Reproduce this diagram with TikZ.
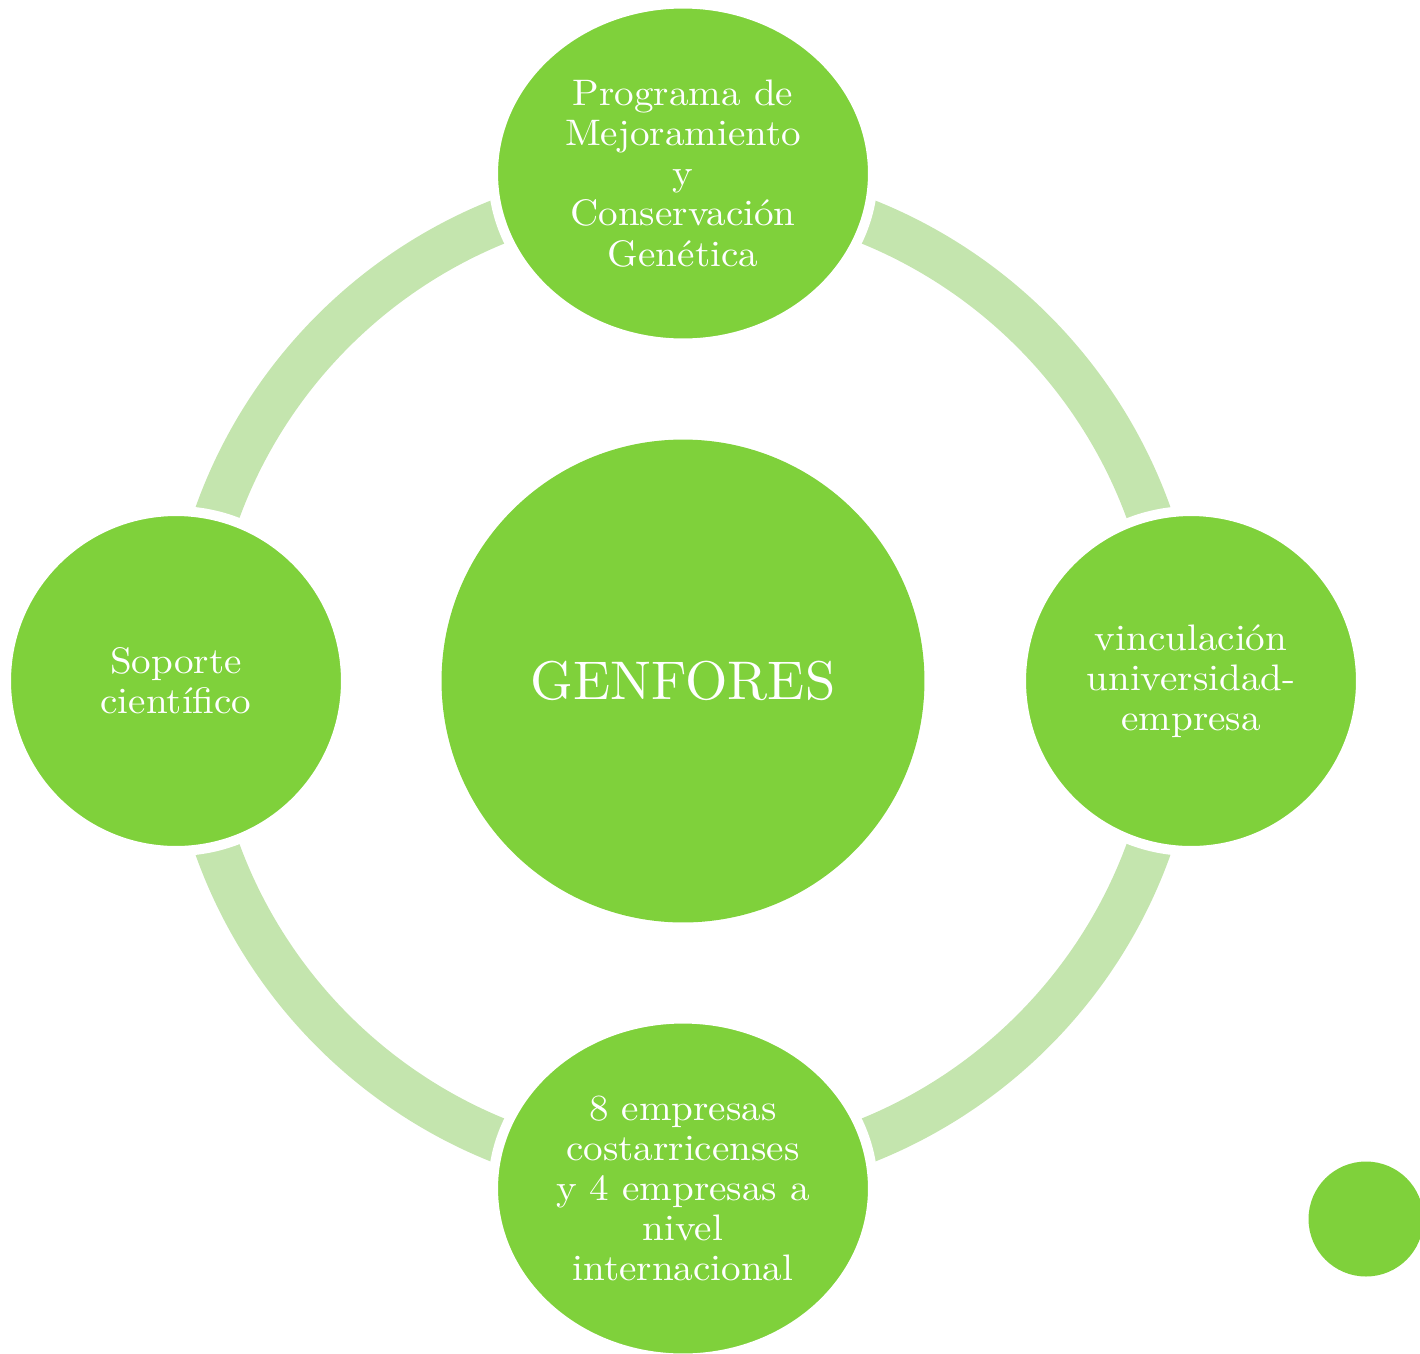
\documentclass[tikz,border=0pt]{standalone}
\usepackage{fontspec}
\usetikzlibrary{shapes.geometric}
% the 10pt design cut, set large, is wider and darker than the 17pt one
\newfontfamily\bigfont{lmroman10-regular.otf}
\newfontfamily\labelfont{lmroman10-regular.otf}[FakeStretch=1.06]
\definecolor{leaf}{HTML}{7FD13B}
\definecolor{pale}{HTML}{C4E5AE}
\begin{document}
\begin{tikzpicture}[x=0.02cm,y=-0.02cm,
    hub/.style={circle,fill=leaf,minimum size=9.66cm,inner sep=0pt,text=white,
      font=\bigfont\fontsize{31}{37}\selectfont},
    item/.style={fill=leaf,draw=white,line width=0.2cm,text=white,align=center,
      inner sep=0pt,font=\labelfont\fontsize{21}{22.8}\selectfont},
    round item/.style={item,circle,minimum size=6.8cm},
    oval item/.style={item,ellipse,minimum width=7.6cm,minimum height=6.8cm}]
    \useasboundingbox (0,0) rectangle (1420,1353);
    \node[hub] (genfores) at (683,681) {GENFORES};
    % ring behind the four outer nodes
    \draw[pale,line width=0.9cm] (genfores.center) circle[radius=9.9cm];
    \node[oval item] (programa) at (683,173.5) {Programa de\\Mejoramiento\\y\\Conservación\\Genética};
    \node[round item] (vinculo) at (1191,681) {vinculación\\universidad-\\empresa};
    \node[oval item] (empresas) at (683,1188.5) {8 empresas\\costarricenses\\y 4 empresas a\\nivel\\internacional};
    \node[round item] (soporte) at (176,681) {Soporte\\científico};
    \node[circle,fill=leaf,minimum size=2.3cm,inner sep=0pt] (punto) at (1366,1219) {};
\end{tikzpicture}
\end{document}
